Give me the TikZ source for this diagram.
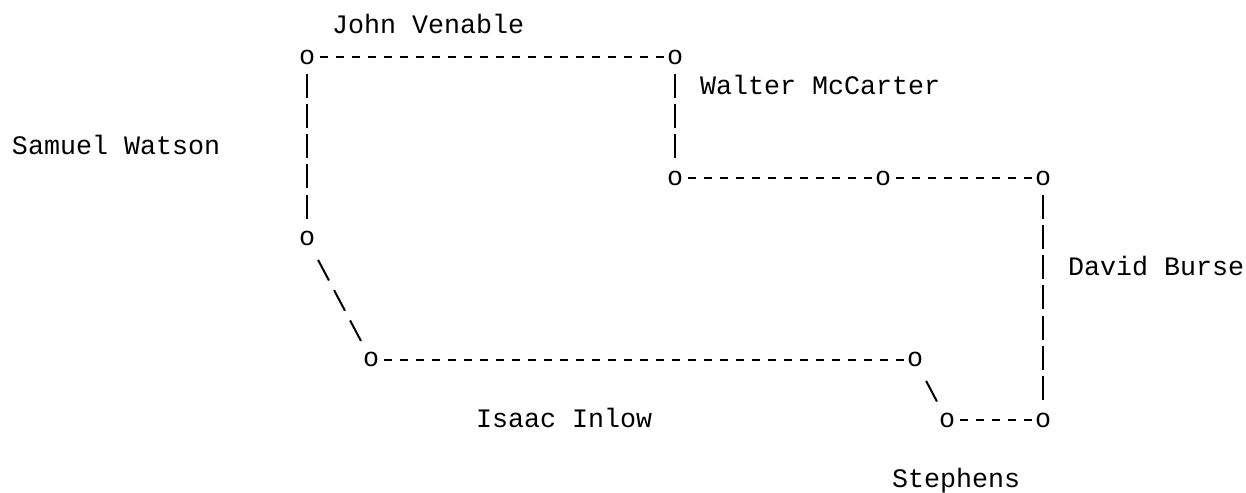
\documentclass[tikz,border=0pt]{standalone}
\usepackage{fontspec}
\setmonofont{Liberation Mono}
\begin{document}
\begin{tikzpicture}[x=16pt,y=-30.25pt,line width=2pt,
    font=\ttfamily\fontsize{26.67}{32}\selectfont,
    corner/.style={inner sep=0pt,minimum width=16pt,minimum height=30.25pt},
    owner/.style={inner sep=0pt,anchor=base west},
    hline/.style={dash pattern=on 8pt off 8pt,dash phase=12pt},
    vline/.style={dash pattern=on 24pt off 6.25pt},
    sline/.style={dash pattern=on 23.2pt off 11.02pt,dash phase=28.71pt}]
  \useasboundingbox(-1.1875,-0.899)rectangle(76.6875,15.398);
  \foreach \n/\x/\y in {p1/18/1,p2/41/1,p3/41/5,p4/54/5,p5/64/5,
      p6/18/7,p7/22/11,p8/56/11,p9/58/13,p10/64/13}{
    \node[corner](\n)at(\x,\y){o};
  }
  \foreach \n/\x/\y/\t in {venable/20/0/John Venable,mccarter/43/2/Walter McCarter,
      watson/0/4/Samuel Watson,burse/66/8/David Burse,
      inlow/29/13/Isaac Inlow,stephens/55/15/Stephens}{
    \node[owner](\n)at(\x-.5,\y+.22){\t};
  }
  \foreach \p/\q in {p1/p2,p3/p4,p4/p5,p7/p8,p9/p10}{
    \draw[hline](\p)--(\q);
  }
  \foreach \p/\q in {p1/p6,p2/p3,p5/p10}{
    \draw[vline](\p)--(\q);
  }
  \foreach \p/\q in {p6/p7,p8/p9}{
    \draw[sline](\p)--(\q);
  }
\end{tikzpicture}
\end{document}
